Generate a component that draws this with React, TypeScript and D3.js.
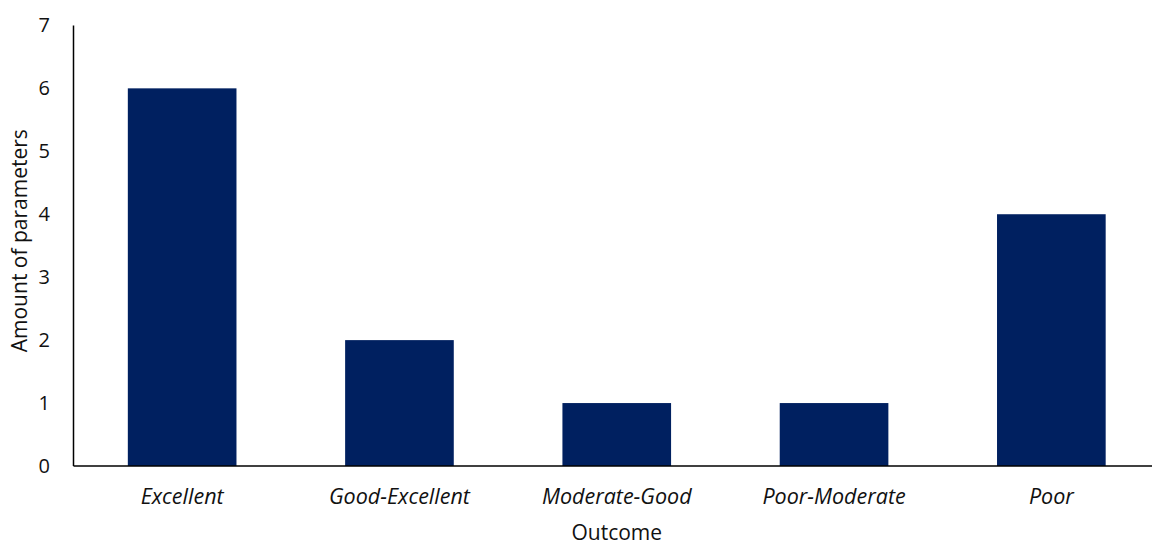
import React, { useEffect, useRef } from "react";
import * as d3 from "d3";

const categories = ["Excellent", "Good-Excellent", "Moderate-Good", "Poor-Moderate", "Poor"];
const counts = [6, 2, 1, 1, 4];
const yTicks = [0, 1, 2, 3, 4, 5, 6, 7];
const xTitle = "Outcome";
const yTitle = "Amount of parameters";

const W = 1152;
const H = 545;
const margin = { top: 25.4, right: 0, bottom: 79, left: 73.5 };
const FONT = "'Open Sans', 'Noto Sans', sans-serif";
const FS = 21;
const BAR = "#002060";

export default function App() {
  const ref = useRef<SVGSVGElement | null>(null);

  useEffect(() => {
    const svg = d3.select(ref.current);
    svg.selectAll("*").remove();

    const x = d3
      .scaleBand<string>()
      .domain(categories)
      .range([margin.left, 1160])
      .paddingInner(0.5)
      .paddingOuter(0.25);
    const y = d3.scaleLinear().domain([0, 7]).range([H - margin.bottom, margin.top]);

    svg
      .append("g")
      .selectAll("rect")
      .data(categories)
      .join("rect")
      .attr("x", (d) => x(d)!)
      .attr("y", (d, i) => y(counts[i]))
      .attr("width", x.bandwidth())
      .attr("height", (d, i) => y(0) - y(counts[i]))
      .attr("fill", BAR);

    // y axis line
    svg
      .append("line")
      .attr("x1", margin.left)
      .attr("x2", margin.left)
      .attr("y1", y(7))
      .attr("y2", y(0))
      .attr("stroke", "#000")
      .attr("stroke-width", 1.5);

    // x axis line
    svg
      .append("line")
      .attr("x1", margin.left)
      .attr("x2", W)
      .attr("y1", y(0))
      .attr("y2", y(0))
      .attr("stroke", "#000")
      .attr("stroke-width", 1.5);

    svg
      .append("g")
      .selectAll("text")
      .data(yTicks)
      .join("text")
      .attr("x", 50)
      .attr("y", (d) => y(d))
      .attr("dy", "0.35em")
      .attr("text-anchor", "end")
      .attr("font-family", FONT)
      .attr("font-size", FS - 1)
      .attr("fill", "#111")
      .text((d) => d);

    svg
      .append("g")
      .selectAll("text")
      .data(categories)
      .join("text")
      .attr("x", (d) => x(d)! + x.bandwidth() / 2)
      .attr("y", 504)
      .attr("text-anchor", "middle")
      .attr("font-family", FONT)
      .attr("font-size", FS + 0.5)
      .attr("font-style", "italic")
      .attr("fill", "#111")
      .text((d) => d);

    svg
      .append("text")
      .attr("x", (margin.left + W) / 2 + 4)
      .attr("y", 540)
      .attr("text-anchor", "middle")
      .attr("font-family", FONT)
      .attr("font-size", FS)
      .attr("fill", "#111")
      .text(xTitle);

    svg
      .append("text")
      .attr("transform", `translate(27, ${(y(0) + y(7)) / 2 - 5}) rotate(-90)`)
      .attr("text-anchor", "middle")
      .attr("font-family", FONT)
      .attr("font-size", FS)
      .attr("fill", "#111")
      .text(yTitle);
  }, []);

  return (
    <svg
      ref={ref}
      width={W}
      height={H}
      style={{ position: "absolute", left: 0, top: 0, background: "#fff" }}
    />
  );
}
